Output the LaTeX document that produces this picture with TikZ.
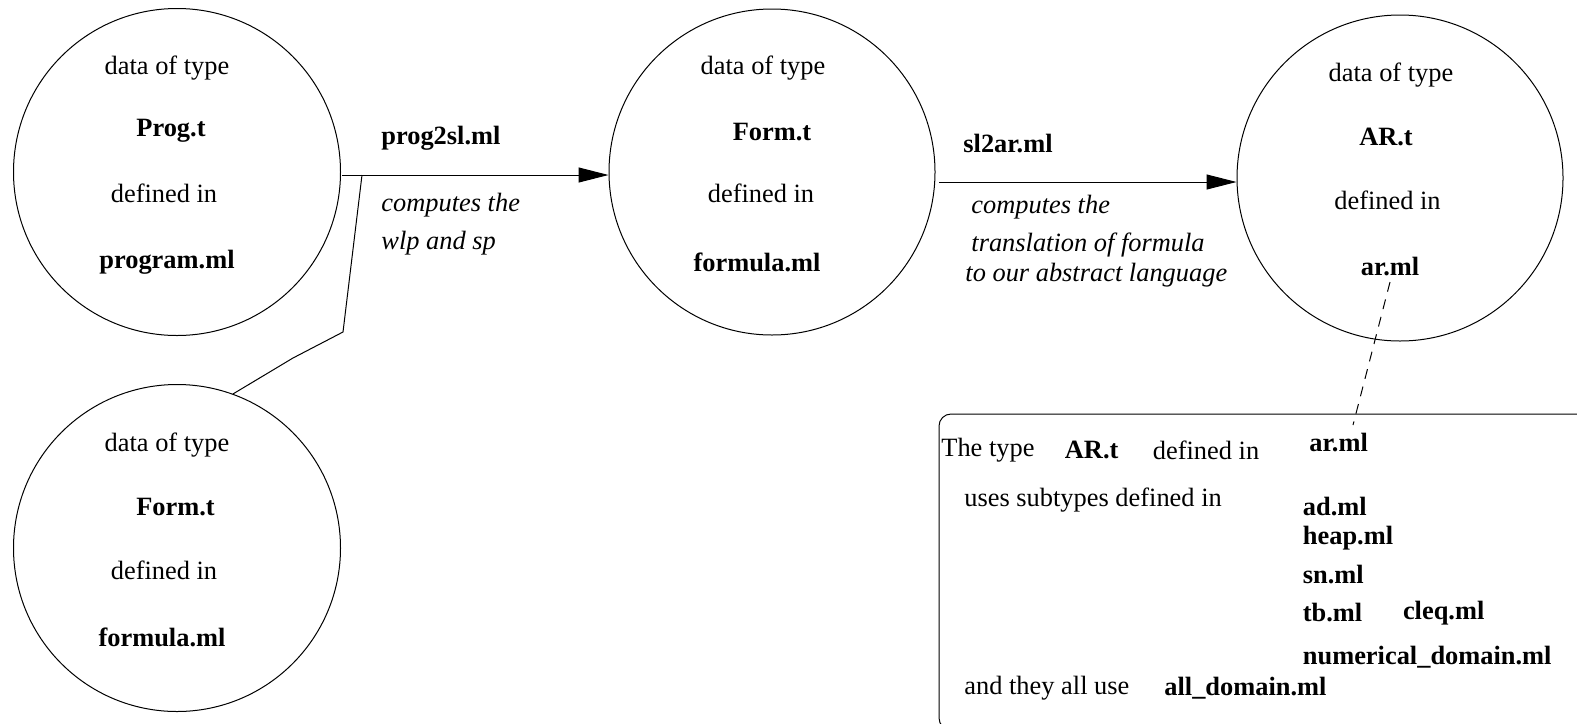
\documentclass[tikz,border=0pt]{standalone}
\usepackage{fontspec}
\setmainfont{Liberation Serif}
\usetikzlibrary{arrows.meta}
\begin{document}
\begin{tikzpicture}[x=0.5pt,y=-0.5pt,
  every node/.style={font=\fontsize{13.2}{16}\selectfont, inner sep=0pt},
  datacircle/.style={circle, draw, line width=0.5pt, minimum size=163.5pt},
  bold/.style={font=\fontsize{13.2}{16}\selectfont\bfseries},
  ital/.style={font=\fontsize{13.2}{16}\selectfont\itshape},
  flow/.style={line width=0.5pt, -{Triangle[length=15pt,width=7.5pt]}},
  link/.style={line width=0.5pt},
  dashlink/.style={line width=0.5pt, dash pattern=on 5pt off 4pt},
  infobox/.style={draw, line width=0.5pt, rounded corners=6pt}
]
\useasboundingbox (0,0) rectangle (1577,723);

% data circles
\node[datacircle] (C1) at (177,172) {};
\node[datacircle] (C2) at (177,548) {};
\node[datacircle, minimum size=163pt] (C3) at (772,172) {};
\node[datacircle, minimum size=163pt] (C4) at (1400,178) {};

% texts of the circles
\node (c1a) at (167,68) {data of type};
\node[bold] (c1b) at (171,131) {Prog.t};
\node (c1c) at (164,193) {defined in};
\node[bold] (c1d) at (167,262) {program.ml};

\node (c2a) at (167,445) {data of type};
\node[bold] (c2b) at (175.5,507) {Form.t};
\node (c2c) at (164,570) {defined in};
\node[bold] (c2d) at (162,637) {formula.ml};

\node (c3a) at (763,68) {data of type};
\node[bold] (c3b) at (772,132) {Form.t};
\node (c3c) at (761,193) {defined in};
\node[bold] (c3d) at (757,262) {formula.ml};

\node (c4a) at (1391,75) {data of type};
\node[bold] (c4b) at (1386,137) {AR.t};
\node (c4c) at (1387.5,200) {defined in};
\node[bold] (c4d) at (1390,267) {ar.ml};

% transformations
\coordinate (a1) at (342,175);
\draw[flow] (a1) -- (a1 -| C3.west);
\coordinate (a2) at (939,182);
\draw[flow] (a2) -- (a2 -| C4.west);

\node[bold, anchor=west] (t1) at (381,138) {prog2sl.ml};
\node[ital, anchor=west] (t1a) at (381,205) {computes the};
\node[ital, anchor=west] (t1b) at (381,243) {wlp and sp};

\node[bold, anchor=west] (t2) at (963,144) {sl2ar.ml};
\node[ital, anchor=west] (t2a) at (971,207) {computes the};
\node[ital, anchor=west] (t2b) at (971,245) {translation of formula};
\node[ital, anchor=west] (t2c) at (965,275) {to our abstract language};

% second input joining the first arrow
\coordinate (j0) at (362,175);
\coordinate (j1) at (343,332);
\coordinate (j2) at (293,358);
\draw[link] (C2.70.6) -- (j2) -- (j1) -- (j0);

% description box of AR.t
\node[infobox, minimum width=325.5pt, minimum height=158pt] (arbox) at (1264.5,572) {};
\coordinate (d1) at (1390,282);
\coordinate (d2) at (1353,425);
\draw[dashlink] (d1) -- (d2);

\node[anchor=west] (b1) at (941,450) {The type};
\node[bold, anchor=west] (b2) at (1064.5,450) {AR.t};
\node[anchor=west] (b3) at (1152.5,450) {defined in};
\node[bold, anchor=west] (b4) at (1309,443) {ar.ml};
\node[anchor=west] (b5) at (964,500) {uses subtypes defined in};
\node[bold, anchor=west] (b6) at (1302.5,507) {ad.ml};
\node[bold, anchor=west] (b7) at (1302.5,538) {heap.ml};
\node[bold, anchor=west] (b8) at (1302.5,575) {sn.ml};
\node[bold, anchor=west] (b9) at (1302.5,613) {tb.ml};
\node[bold, anchor=west] (b10) at (1402.6,613) {cleq.ml};
\node[bold, anchor=west] (b11) at (1302.5,657) {numerical\_domain.ml};
\node[anchor=west] (b12) at (964,688) {and they all use};
\node[bold, anchor=west] (b13) at (1164,688) {all\_domain.ml};
\end{tikzpicture}
\end{document}
